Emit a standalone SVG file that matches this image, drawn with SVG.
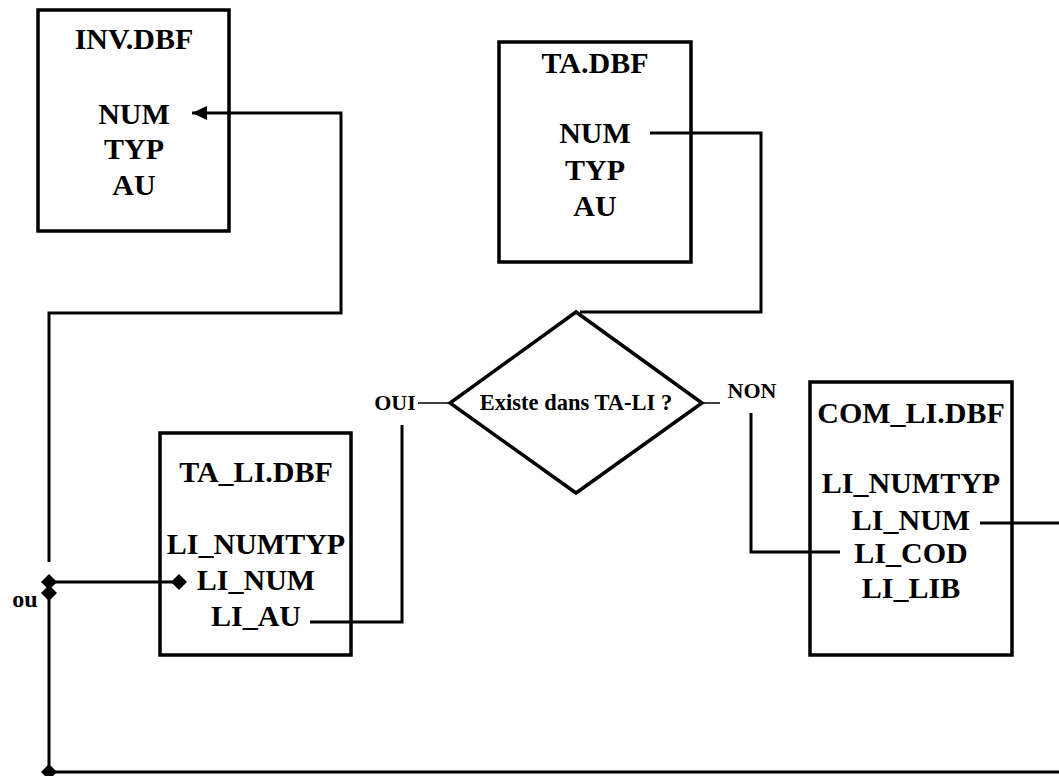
<svg xmlns="http://www.w3.org/2000/svg" width="1059" height="776" viewBox="0 0 1059 776">
  <style>
    .box { fill: #fff; stroke: #000; stroke-width: 3.5; }
    .lbl { font-family: "Liberation Serif", "Times New Roman", serif; font-weight: bold; font-size: 30px; fill: #000; text-anchor: middle; }
    .small { font-size: 22px; }
    .wire { fill: none; stroke: #000; stroke-width: 3; }
    .thin { fill: none; stroke: #000; stroke-width: 1.5; }
  </style>
  <defs>
    <marker id="arrow" viewBox="0 0 15 14" refX="15" refY="7" markerWidth="15" markerHeight="14" markerUnits="userSpaceOnUse" orient="auto">
      <path d="M0,0 L15,7 L0,14 Z" fill="#000"/>
    </marker>
    <path id="dia" d="M-8,0 L0,-8 L8,0 L0,8 Z" fill="#000"/>
  </defs>

  <rect width="1059" height="776" fill="#fff"/>

  <!-- tables -->
  <g id="inv">
    <rect class="box" x="38" y="10" width="191" height="221"/>
    <text class="lbl" x="134" y="49">INV.DBF</text>
    <text class="lbl" x="134" y="124">NUM</text>
    <text class="lbl" x="134" y="159">TYP</text>
    <text class="lbl" x="134" y="195">AU</text>
  </g>

  <g id="ta">
    <rect class="box" x="499" y="42" width="192" height="220"/>
    <text class="lbl" x="595" y="73">TA.DBF</text>
    <text class="lbl" x="595" y="143">NUM</text>
    <text class="lbl" x="595" y="180">TYP</text>
    <text class="lbl" x="595" y="216">AU</text>
  </g>

  <g id="ta_li">
    <rect class="box" x="160" y="433" width="191" height="222"/>
    <text class="lbl" x="256" y="482">TA_LI.DBF</text>
    <text class="lbl" x="256" y="554">LI_NUMTYP</text>
    <text class="lbl" x="256" y="590">LI_NUM</text>
    <text class="lbl" x="256" y="626">LI_AU</text>
  </g>

  <g id="com_li">
    <rect class="box" x="810" y="382" width="202" height="273"/>
    <text class="lbl" x="911" y="423">COM_LI.DBF</text>
    <text class="lbl" x="911" y="493">LI_NUMTYP</text>
    <text class="lbl" x="911" y="530">LI_NUM</text>
    <text class="lbl" x="911" y="563">LI_COD</text>
    <text class="lbl" x="911" y="598">LI_LIB</text>
  </g>

  <g id="test">
    <polygon class="box" points="576,312 702,403 576,493 450,403"/>
    <text class="lbl small" x="576" y="410" style="font-size:22.5px">Existe dans TA-LI ?</text>
  </g>

  <!-- connectors -->
  <g id="connectors">
    <!-- TA.NUM to the test -->
    <polyline class="wire" points="650,133 761,133 761,312 580,312"/>
    <!-- OUI branch -->
    <line class="thin" x1="418" y1="403" x2="450" y2="403"/>
    <text class="lbl small" x="395" y="410">OUI</text>
    <polyline class="wire" points="402,425 402,622 310,622"/>
    <!-- NON branch -->
    <line class="thin" x1="702" y1="403" x2="720" y2="403"/>
    <text class="lbl small" x="752" y="398">NON</text>
    <polyline class="wire" points="751,413 751,552 840,552"/>
    <!-- back to INV.NUM -->
    <polyline class="wire" points="49,562 49,313 341,313 341,113 192,113" marker-end="url(#arrow)"/>
    <!-- TA_LI.LI_NUM to the junction -->
    <line class="wire" x1="49" y1="582" x2="179" y2="582"/>
    <use href="#dia" x="49" y="582"/>
    <use href="#dia" x="179" y="582"/>
    <!-- COM_LI.LI_NUM around the bottom -->
    <polyline class="wire" points="980,523 1062,523"/>
    <polyline class="wire" points="1062,772 49,772 49,593"/>
    <use href="#dia" x="49" y="593"/>
    <use href="#dia" x="49" y="772"/>
    <text class="lbl" x="25" y="607" style="font-size:24px">ou</text>
  </g>
</svg>
